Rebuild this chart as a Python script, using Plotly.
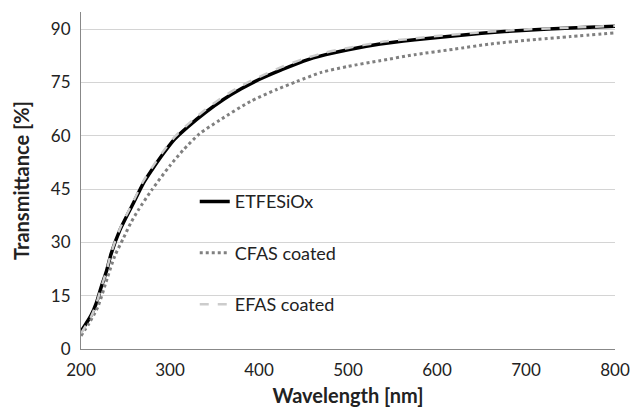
import plotly.graph_objects as go

wl_et = [200, 211.6, 217.2, 222.8, 228.4, 234, 243.8, 258.8, 270, 280, 292.5, 305, 320, 340, 360, 380, 400, 425, 450, 475, 500, 536, 575, 615, 650, 700, 750, 800]
t_et = [4.9, 9.6, 12.9, 17.5, 21.7, 26.9, 33.5, 41, 46.6, 50.5, 55, 59, 62.5, 66.6, 70.2, 73.2, 75.8, 78.5, 81, 82.8, 84.2, 85.8, 87, 88, 88.8, 89.7, 90.3, 90.8]

wl_cf = [200, 209, 219, 230, 238, 247.5, 256, 264.4, 279.4, 300, 315, 333, 356, 390, 420, 442, 470, 500, 536, 575, 618, 660, 712, 750, 800]
t_cf = [3.7, 7.2, 11.9, 20.3, 26.2, 31.1, 35.5, 39.1, 44.7, 51.6, 56, 60.5, 64.4, 69.6, 73, 75.2, 77.8, 79.5, 81.1, 82.8, 84.3, 85.8, 87.1, 87.9, 88.9]

wl_ef = [200, 211.6, 217.2, 222.8, 228.4, 234, 243.8, 258.8, 270, 280, 292.5, 305, 320, 340, 360, 380, 400, 425, 450, 475, 500, 536, 575, 615, 650, 700, 750, 800]
t_ef = [4.4, 9.2, 12.7, 17.4, 21.8, 27.1, 33.9, 41.5, 47.2, 51.1, 55.6, 59.6, 63.2, 67.4, 71, 74, 76.5, 79.3, 81.6, 83.4, 84.7, 86.3, 87.4, 88.4, 89.1, 89.9, 90.4, 90.9]

names = ["ETFESiOx", "CFAS coated", "EFAS coated"]
x_ticks = [200, 300, 400, 500, 600, 700, 800]
y_ticks = [0, 15, 30, 45, 60, 75, 90]

FONT = "Lato, 'Liberation Sans', sans-serif"

fig = go.Figure()
fig.add_trace(go.Scatter(x=wl_et, y=t_et, mode="lines", name=names[0], legendgroup="a",
                         line=dict(color="#000000", width=3.5, shape="spline", smoothing=0.7)))
fig.add_trace(go.Scatter(x=wl_cf, y=t_cf, mode="lines", name=names[1], legendgroup="b",
                         line=dict(color="#808080", width=3, dash="dot", shape="spline", smoothing=0.7)))
fig.add_trace(go.Scatter(x=wl_ef, y=t_ef, mode="lines", name=names[2], legendgroup="c",
                         line=dict(color="#cccccc", width=2.5, dash="dash", shape="spline", smoothing=0.7)))

fig.update_layout(
    width=632, height=412,
    margin=dict(l=81, r=17, t=12, b=63),
    plot_bgcolor="white", paper_bgcolor="white",
    font=dict(family=FONT, size=17, color="#222222"),
    showlegend=True,
    legend=dict(x=0.213, y=0.492, xanchor="left", yanchor="top",
                bgcolor="rgba(0,0,0,0)", tracegroupgap=25, itemwidth=30,
                font=dict(family=FONT, size=18, color="#222222")),
    xaxis=dict(range=[200, 800], tickvals=x_ticks, showgrid=False, zeroline=False,
               showline=True, linecolor="#888888", linewidth=1, ticks="",
               ticklabelstandoff=6, automargin=False,
               title=dict(text="<b>Wavelength [nm]</b>", standoff=9,
                          font=dict(family=FONT, size=20, color="#222222"))),
    yaxis=dict(range=[0, 94.8], tickvals=y_ticks, showgrid=True, gridcolor="#d4d4d4",
               zeroline=False, showline=True, linecolor="#888888", linewidth=1, ticks="",
               ticklabelstandoff=6, automargin=False,
               title=dict(text="<b>Transmittance [%]</b>", standoff=15,
                          font=dict(family=FONT, size=20, color="#222222"))),
)

fig.write_html("out.html")
